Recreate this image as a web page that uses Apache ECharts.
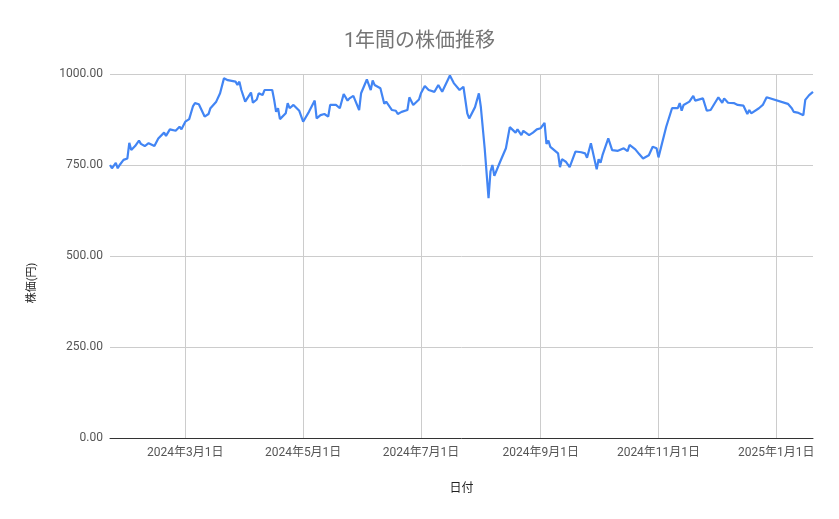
<!DOCTYPE html>
<html>
<head>
<meta charset="utf-8">
<script src="https://cdn.jsdelivr.net/npm/echarts@6/dist/echarts.min.js"></script>
<style>
  html, body { margin: 0; padding: 0; background: #fff; }
  #main { width: 839px; height: 519px; }
</style>
</head>
<body>
<div id="main"></div>
<script>
var dates = [
  '2024-01-22', '2024-01-23', '2024-01-24', '2024-01-25', '2024-01-26', '2024-01-27', '2024-01-29', '2024-01-30', '2024-01-31',
  '2024-02-01', '2024-02-02', '2024-02-04', '2024-02-06', '2024-02-07', '2024-02-09', '2024-02-11', '2024-02-12', '2024-02-14',
  '2024-02-16', '2024-02-19', '2024-02-20', '2024-02-22', '2024-02-25', '2024-02-27', '2024-02-28',
  '2024-03-01', '2024-03-03', '2024-03-05', '2024-03-06', '2024-03-08', '2024-03-11', '2024-03-13', '2024-03-14', '2024-03-17',
  '2024-03-19', '2024-03-21', '2024-03-23', '2024-03-27', '2024-03-28', '2024-03-29', '2024-03-30',
  '2024-04-01', '2024-04-02', '2024-04-04', '2024-04-05', '2024-04-07', '2024-04-08', '2024-04-10', '2024-04-11', '2024-04-15',
  '2024-04-16', '2024-04-17', '2024-04-18', '2024-04-19', '2024-04-22', '2024-04-23', '2024-04-24', '2024-04-26', '2024-04-29',
  '2024-05-01', '2024-05-04', '2024-05-07', '2024-05-08', '2024-05-10', '2024-05-12', '2024-05-14', '2024-05-15', '2024-05-18',
  '2024-05-20', '2024-05-21', '2024-05-22', '2024-05-24', '2024-05-25', '2024-05-27', '2024-05-28', '2024-05-30', '2024-05-31',
  '2024-06-03', '2024-06-04', '2024-06-05', '2024-06-06', '2024-06-07', '2024-06-10', '2024-06-12', '2024-06-13', '2024-06-16',
  '2024-06-18', '2024-06-19', '2024-06-21', '2024-06-24', '2024-06-25', '2024-06-27', '2024-06-30',
  '2024-07-01', '2024-07-03', '2024-07-05', '2024-07-08', '2024-07-10', '2024-07-12', '2024-07-16', '2024-07-18', '2024-07-21',
  '2024-07-23', '2024-07-25', '2024-07-26', '2024-07-29', '2024-07-30', '2024-07-31',
  '2024-08-01', '2024-08-03', '2024-08-05', '2024-08-06', '2024-08-07', '2024-08-08', '2024-08-11', '2024-08-14', '2024-08-16',
  '2024-08-19', '2024-08-20', '2024-08-22', '2024-08-23', '2024-08-26', '2024-08-28', '2024-08-30',
  '2024-09-01', '2024-09-03', '2024-09-04', '2024-09-05', '2024-09-06', '2024-09-10', '2024-09-11', '2024-09-12', '2024-09-14',
  '2024-09-16', '2024-09-19', '2024-09-22', '2024-09-24', '2024-09-25', '2024-09-27', '2024-09-30',
  '2024-10-01', '2024-10-02', '2024-10-03', '2024-10-04', '2024-10-06', '2024-10-08', '2024-10-11', '2024-10-14', '2024-10-16',
  '2024-10-17', '2024-10-20', '2024-10-22', '2024-10-24', '2024-10-27', '2024-10-29', '2024-10-31',
  '2024-11-01', '2024-11-05', '2024-11-08', '2024-11-11', '2024-11-12', '2024-11-13', '2024-11-14', '2024-11-17', '2024-11-19',
  '2024-11-20', '2024-11-24', '2024-11-26', '2024-11-28',
  '2024-12-02', '2024-12-04', '2024-12-05', '2024-12-07', '2024-12-10', '2024-12-11', '2024-12-12', '2024-12-15', '2024-12-17',
  '2024-12-18', '2024-12-19', '2024-12-23', '2024-12-25', '2024-12-27',
  '2025-01-07', '2025-01-09', '2025-01-10', '2025-01-12', '2025-01-15', '2025-01-16', '2025-01-18', '2025-01-20'
];

var prices = [
  750, 741, 739, 756, 741, 750, 764, 759, 768,
  811, 791, 802, 817, 808, 802, 810, 814, 802,
  823, 839, 830, 848, 844, 855, 848,
  869, 876, 912, 920, 917, 883, 890, 906, 924,
  947, 988, 983, 979, 970, 979, 956,
  924, 927, 949, 921, 930, 947, 942, 956, 956,
  929, 896, 906, 876, 892, 920, 906, 915, 899,
  869, 896, 927, 878, 887, 890, 883, 915, 915,
  906, 901, 945, 927, 933, 940, 927, 901, 947,
  985, 983, 956, 982, 970, 961, 918, 924, 901,
  899, 890, 896, 901, 936, 915, 930,
  947, 967, 956, 951, 970, 951, 996, 975, 956,
  965, 892, 878, 909, 906, 947,
  910, 796, 659, 732, 750, 720, 759, 796, 854,
  839, 848, 832, 844, 832, 839, 848,
  851, 866, 808, 817, 800, 782, 744, 766, 759,
  744, 787, 785, 782, 770, 810, 738,
  766, 756, 777, 780, 823, 791, 789, 796, 788,
  805, 793, 780, 768, 777, 800, 796,
  771, 855, 906, 906, 920, 899, 915, 924, 940,
  927, 933, 899, 901,
  936, 921, 933, 921, 920, 921, 915, 913, 890,
  901, 892, 906, 915, 936,
  918, 906, 896, 894, 887, 929, 942, 951
];

var xTickDates = ['2024-03-01', '2024-05-01', '2024-07-01', '2024-09-01', '2024-11-01', '2025-01-01'];
var xStart = '2024-01-22';
var xEnd = '2025-01-20';

function toTime(s) {
  var p = s.split('-');
  return new Date(+p[0], +p[1] - 1, +p[2]).getTime();
}

var font = 'Roboto, "Noto Sans CJK JP", sans-serif';

var chart = echarts.init(document.getElementById('main'));

chart.setOption({
  backgroundColor: '#fff',
  animation: false,
  title: {
    text: '1年間の株価推移',
    left: 'center',
    top: 27,
    textStyle: { color: '#757575', fontSize: 20, fontWeight: 'normal', fontFamily: font }
  },
  grid: { left: 110, right: 26, top: 74, bottom: 81 },
  xAxis: {
    type: 'value',
    min: toTime(xStart),
    max: toTime(xEnd),
    name: '日付',
    nameLocation: 'middle',
    nameGap: 45,
    nameTextStyle: { color: '#222', fontSize: 12, fontFamily: font },
    axisLine: { lineStyle: { color: '#333', width: 1 } },
    axisTick: { show: false, customValues: xTickDates.map(toTime) },
    axisLabel: {
      customValues: xTickDates.map(toTime),
      color: '#555',
      fontSize: 12,
      fontFamily: font,
      margin: 9,
      formatter: function (v) {
        var d = new Date(v);
        return d.getFullYear() + '年' + (d.getMonth() + 1) + '月' + d.getDate() + '日';
      }
    },
    splitLine: { show: true, lineStyle: { color: '#ccc', width: 1 } }
  },
  yAxis: {
    type: 'value',
    min: 0,
    max: 1000,
    interval: 250,
    name: '株価(円)',
    nameLocation: 'middle',
    nameGap: 72,
    nameTextStyle: { color: '#222', fontSize: 11, fontFamily: font, padding: [0, 54, 0, 0] },
    axisLine: { show: false },
    axisTick: { show: false },
    axisLabel: {
      color: '#555',
      fontSize: 12,
      fontFamily: font,
      margin: 7,
      formatter: function (v) { return v.toFixed(2); }
    },
    splitLine: { lineStyle: { color: '#ccc', width: 1 } }
  },
  series: [{
    type: 'line',
    data: dates.map(function (d, i) { return [toTime(d), prices[i]]; }),
    showSymbol: false,
    lineStyle: { color: '#4285F4', width: 2.2 },
    itemStyle: { color: '#4285F4' }
  }]
});
</script>
</body>
</html>
